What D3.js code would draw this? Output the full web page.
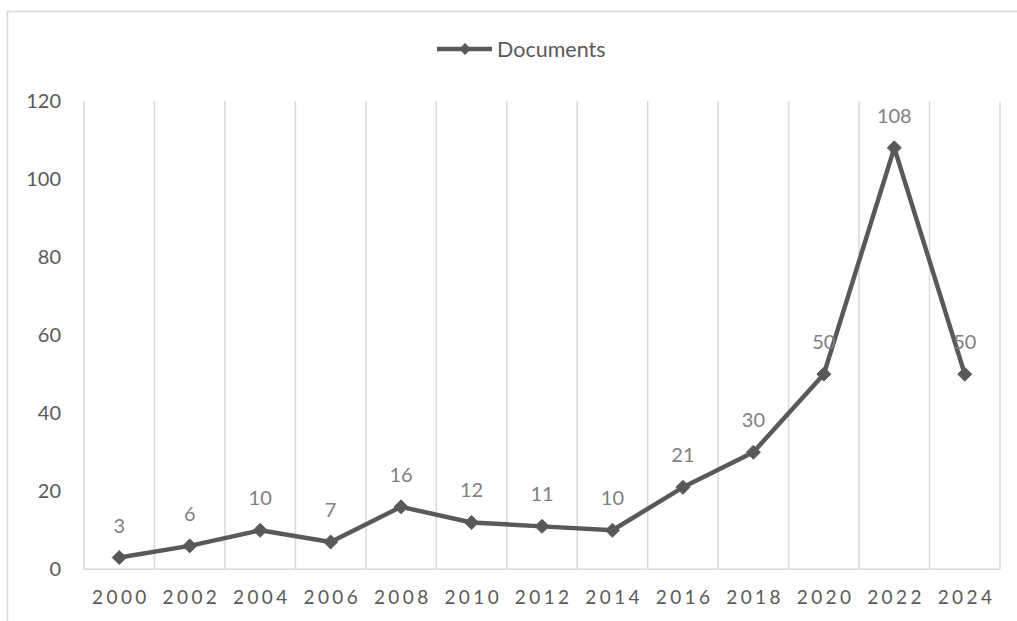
<!DOCTYPE html>
<html>
<head>
<meta charset="utf-8">
<script src="https://cdn.jsdelivr.net/npm/d3@7"></script>
<style>
  html, body { margin: 0; padding: 0; background: #fff; }
  svg { display: block; font-family: Lato, "Open Sans", sans-serif; }
</style>
</head>
<body>
<svg id="chart" width="1017" height="621"></svg>
<script>
// Publication counts per two-year period
const years = ["2000", "2002", "2004", "2006", "2008", "2010", "2012",
               "2014", "2016", "2018", "2020", "2022", "2024"];
const documents = [3, 6, 10, 7, 16, 12, 11, 10, 21, 30, 50, 108, 50];
const yTicks = [0, 20, 40, 60, 80, 100, 120];
const seriesName = "Documents";

const W = 1017, H = 621;
const plot = { left: 84, right: 1000, top: 101, bottom: 569.3 };
const lineColor = "#595959";
const gridColor = "#d9d9d9";

const svg = d3.select("#chart");

// Outer chart frame (top and left edges visible)
svg.append("path")
  .attr("d", `M7.5,${H} L7.5,11.5 L${W},11.5`)
  .attr("fill", "none")
  .attr("stroke", gridColor)
  .attr("stroke-width", 1.5);

const x = d3.scaleBand().domain(years).range([plot.left, plot.right]).padding(0);
const y = d3.scaleLinear().domain([0, 120]).range([plot.bottom, plot.top]);

// Vertical gridlines at category boundaries
const edges = years.map(d => x(d)).concat([x(years[years.length - 1]) + x.bandwidth()]);
svg.append("g").selectAll("line").data(edges).join("line")
  .attr("x1", d => d).attr("x2", d => d)
  .attr("y1", y(120)).attr("y2", y(0))
  .attr("stroke", gridColor).attr("stroke-width", 1.5);

// Category axis baseline
svg.append("line")
  .attr("x1", plot.left).attr("x2", plot.right)
  .attr("y1", y(0)).attr("y2", y(0))
  .attr("stroke", gridColor).attr("stroke-width", 1.5);

// Value axis labels
const yAxis = d3.axisLeft(y).tickValues(yTicks).tickSize(0).tickPadding(0);
const gy = svg.append("g").attr("transform", "translate(61,0)").call(yAxis);
gy.select(".domain").remove();
gy.selectAll("text")
  .attr("fill", lineColor)
  .style("font-size", "20px")
  .style("font-family", "Lato, sans-serif");

// Category axis labels
const xAxis = d3.axisBottom(x).tickSize(0).tickPadding(0);
const gx = svg.append("g").attr("transform", `translate(0,${y(0)})`).call(xAxis);
gx.select(".domain").remove();
gx.selectAll("text")
  .attr("fill", lineColor)
  .attr("dy", null)
  .attr("y", 35)
  .style("font-size", "19px")
  .style("letter-spacing", "3.4px")
  .style("font-family", "Lato, sans-serif")
  .attr("dx", 1.7);

const data = years.map((yr, i) => ({ year: yr, value: documents[i] }));
const cx = d => x(d.year) + x.bandwidth() / 2;

// Series line
svg.append("path")
  .datum(data)
  .attr("fill", "none")
  .attr("stroke", lineColor)
  .attr("stroke-width", 4.5)
  .attr("stroke-linejoin", "round")
  .attr("d", d3.line().x(cx).y(d => y(d.value)));

// Diamond markers
const diamond = d3.symbol().type(d3.symbolDiamond2).size(125);
svg.append("g").selectAll("path").data(data).join("path")
  .attr("transform", d => `translate(${cx(d)},${y(d.value)})`)
  .attr("d", diamond)
  .attr("fill", lineColor)
  .attr("stroke", lineColor)
  .attr("stroke-width", 1);

// Data labels above each point
svg.append("g").selectAll("text").data(data).join("text")
  .attr("x", cx)
  .attr("y", d => y(d.value) - 25)
  .attr("text-anchor", "middle")
  .attr("fill", "#7f7f7f")
  .style("font-size", "20px")
  .text(d => d.value);

// Legend
const leg = svg.append("g");
leg.append("line")
  .attr("x1", 437).attr("x2", 492)
  .attr("y1", 49).attr("y2", 49)
  .attr("stroke", lineColor).attr("stroke-width", 4.5);
leg.append("path")
  .attr("transform", "translate(465,49)")
  .attr("d", d3.symbol().type(d3.symbolDiamond2).size(90))
  .attr("fill", lineColor);
leg.append("text")
  .attr("x", 497).attr("y", 49)
  .attr("dy", "0.35em")
  .attr("fill", lineColor)
  .style("font-size", "21.5px")
  .text(seriesName);
</script>
</body>
</html>
